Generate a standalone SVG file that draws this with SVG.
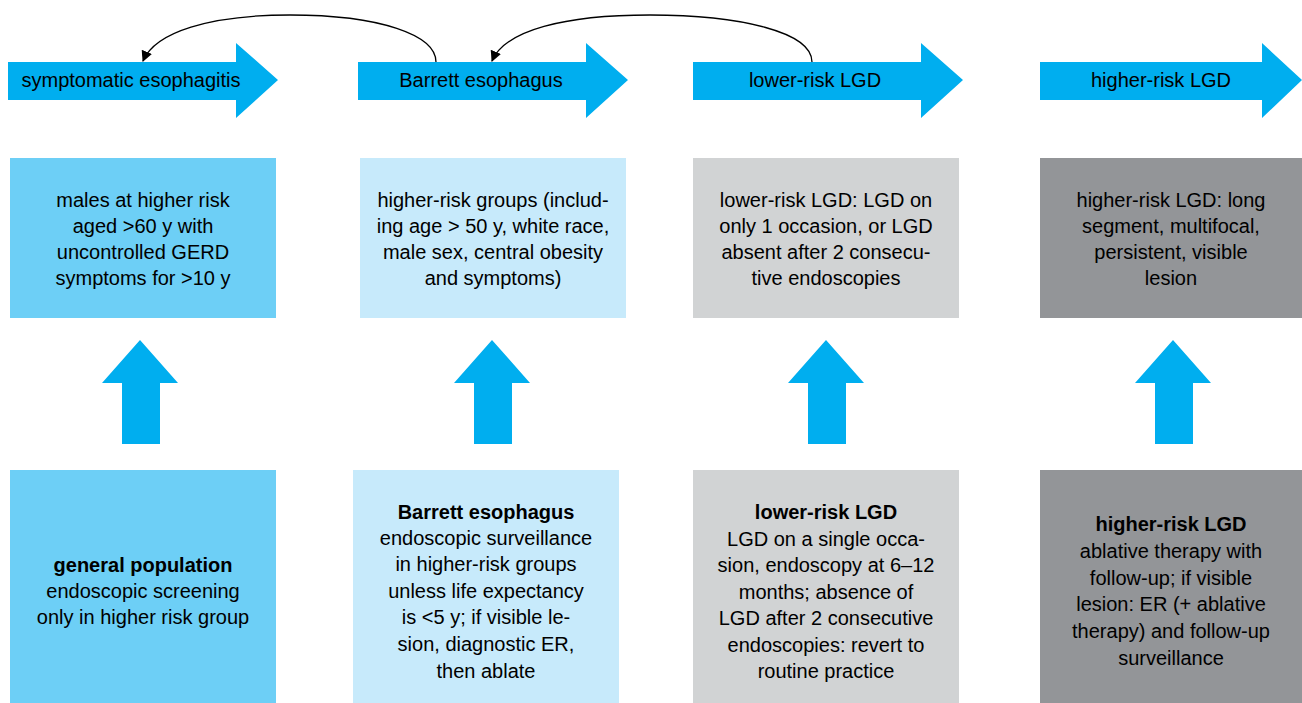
<svg xmlns="http://www.w3.org/2000/svg" width="1302" height="703" viewBox="0 0 1302 703">
<style>
text{font-family:"Liberation Sans Narrow","Liberation Sans",Arial,sans-serif;font-size:20px;fill:#000;text-anchor:middle}
.b{font-weight:bold}
.arr{fill:#00AEEF}
.c1{fill:#6DCFF6}.c2{fill:#C7EAFB}.c3{fill:#D1D3D4}.c4{fill:#939598}
.conn{fill:none;stroke:#000;stroke-width:1.3}
</style>
<defs>
<marker id="ah" viewBox="0 0 10 10" refX="9" refY="5" markerWidth="11" markerHeight="11" markerUnits="userSpaceOnUse" orient="auto"><path d="M0,0 L10,5 L0,10 z" fill="#000"/></marker>
</defs>
<rect width="1302" height="703" fill="#fff"/>
<g id="stage1">
<polygon class="arr" points="8,62 236,62 236,43 278,80 236,118 236,100 8,100"/>
<text x="131" y="87">symptomatic esophagitis</text>
</g>
<g id="stage2">
<polygon class="arr" points="358,62 586,62 586,43 628,80 586,118 586,100 358,100"/>
<text x="481" y="87">Barrett esophagus</text>
</g>
<g id="stage3">
<polygon class="arr" points="693,62 921,62 921,43 963,80 921,118 921,100 693,100"/>
<text x="815" y="87">lower-risk LGD</text>
</g>
<g id="stage4">
<polygon class="arr" points="1040,62 1262,62 1262,43 1302,80 1262,118 1262,100 1040,100"/>
<text x="1161" y="87">higher-risk LGD</text>
</g>
<g id="connectors">
<path class="conn" d="M436,62 C436,35 380,15 290,15 C210,15 155,32 143,61" marker-end="url(#ah)"/>
<path class="conn" d="M812,62 C812,32 740,15 650,15 C565,15 505,30 492,61" marker-end="url(#ah)"/>
</g>
<g id="risk1">
<rect class="c1" x="10" y="158" width="266" height="160"/>
<text x="143" y="207">males at higher risk</text>
<text x="143" y="233">aged &gt;60 y with</text>
<text x="143" y="259">uncontrolled GERD</text>
<text x="143" y="285">symptoms for &gt;10 y</text>
</g>
<g id="risk2">
<rect class="c2" x="360" y="158" width="266" height="160"/>
<text x="493" y="207">higher-risk groups (includ-</text>
<text x="493" y="233">ing age &gt; 50 y, white race,</text>
<text x="493" y="259">male sex, central obesity</text>
<text x="493" y="285">and symptoms)</text>
</g>
<g id="risk3">
<rect class="c3" x="693" y="158" width="266" height="160"/>
<text x="826" y="207">lower-risk LGD: LGD on</text>
<text x="826" y="233">only 1 occasion, or LGD</text>
<text x="826" y="259">absent after 2 consecu-</text>
<text x="826" y="285">tive endoscopies</text>
</g>
<g id="risk4">
<rect class="c4" x="1040" y="158" width="262" height="160"/>
<text x="1171" y="207">higher-risk LGD: long</text>
<text x="1171" y="233">segment, multifocal,</text>
<text x="1171" y="259">persistent, visible</text>
<text x="1171" y="285">lesion</text>
</g>
<g id="up1"><polygon class="arr" points="122,444 122,383 102,383 140,340 178,383 160,383 160,444"/></g>
<g id="up2"><polygon class="arr" points="474,444 474,383 454,383 492,340 530,383 512,383 512,444"/></g>
<g id="up3"><polygon class="arr" points="808,444 808,383 788,383 826,340 864,383 846,383 846,444"/></g>
<g id="up4"><polygon class="arr" points="1155,444 1155,383 1135,383 1173,340 1211,383 1193,383 1193,444"/></g>
<g id="mgmt1">
<rect class="c1" x="10" y="470" width="266" height="233"/>
<text class="b" x="143" y="572">general population</text>
<text x="143" y="598">endoscopic screening</text>
<text x="143" y="624">only in higher risk group</text>
</g>
<g id="mgmt2">
<rect class="c2" x="353" y="470" width="266" height="233"/>
<text class="b" x="486" y="519">Barrett esophagus</text>
<text x="486" y="545">endoscopic surveillance</text>
<text x="486" y="571">in higher-risk groups</text>
<text x="486" y="598">unless life expectancy</text>
<text x="486" y="624">is &lt;5 y; if visible le-</text>
<text x="486" y="651">sion, diagnostic ER,</text>
<text x="486" y="678">then ablate</text>
</g>
<g id="mgmt3">
<rect class="c3" x="693" y="470" width="266" height="233"/>
<text class="b" x="826" y="519">lower-risk LGD</text>
<text x="826" y="546">LGD on a single occa-</text>
<text x="826" y="572">sion, endoscopy at 6–12</text>
<text x="826" y="599">months; absence of</text>
<text x="826" y="625">LGD after 2 consecutive</text>
<text x="826" y="652">endoscopies: revert to</text>
<text x="826" y="678">routine practice</text>
</g>
<g id="mgmt4">
<rect class="c4" x="1040" y="470" width="262" height="233"/>
<text class="b" x="1171" y="531">higher-risk LGD</text>
<text x="1171" y="558">ablative therapy with</text>
<text x="1171" y="585">follow-up; if visible</text>
<text x="1171" y="611">lesion: ER (+ ablative</text>
<text x="1171" y="638">therapy) and follow-up</text>
<text x="1171" y="665">surveillance</text>
</g>
</svg>
